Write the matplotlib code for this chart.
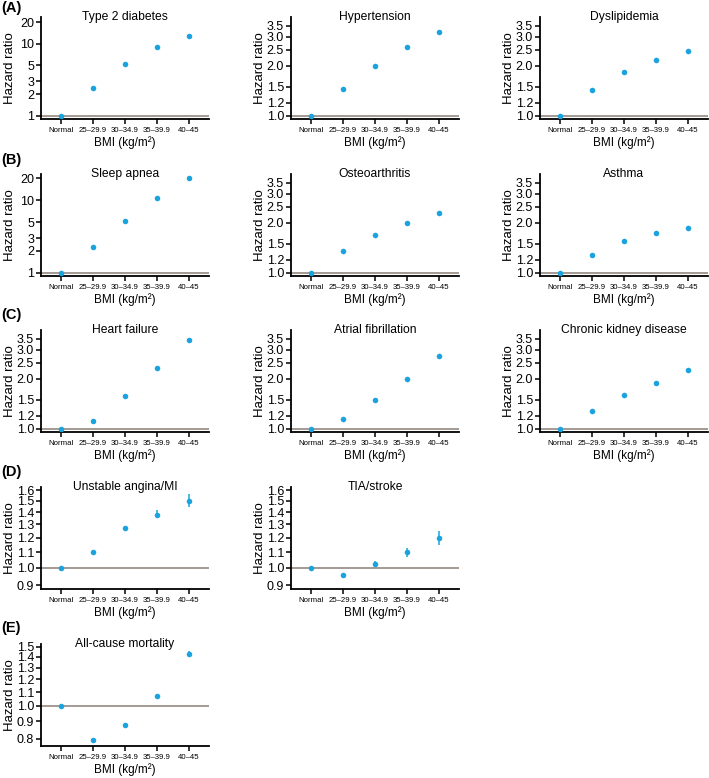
import numpy as np
import matplotlib
matplotlib.use('Agg')
import matplotlib.pyplot as plt
from matplotlib.ticker import FixedLocator, FormatStrFormatter, NullLocator

plt.rcParams['font.family'] = ['Liberation Sans', 'DejaVu Sans']

# BMI categories
bmi_labels = ['Normal', '25\u201329.9', '30\u201334.9', '35\u201339.9', '40\u201345']

# hazard ratios (point estimates)
hr_t2d = [1.0, 2.44, 5.2, 9.0, 12.6]
hr_htn = [1.0, 1.45, 2.0, 2.61, 3.2]
hr_dys = [1.0, 1.43, 1.83, 2.16, 2.45]
hr_osa = [1.0, 2.28, 5.2, 10.7, 20.1]
hr_oa = [1.0, 1.36, 1.69, 2.0, 2.31]
hr_asthma = [1.0, 1.28, 1.545, 1.73, 1.85]
hr_hf = [1.0, 1.12, 1.57, 2.32, 3.42]
hr_af = [1.0, 1.15, 1.50, 2.0, 2.76]
hr_ckd = [1.0, 1.28, 1.59, 1.88, 2.27]
hr_ua = [1.0, 1.10, 1.27, 1.38, 1.50]
hr_tia = [1.0, 0.96, 1.022, 1.10, 1.197]
hr_mort = [1.0, 0.79, 0.879, 1.074, 1.432]

# 95% CI (lower, upper); only the wider ones are visible
ci_asthma = ([1.0, 1.27, 1.53, 1.71, 1.80], [1.0, 1.29, 1.56, 1.75, 1.90])
ci_hf = ([1.0, 1.11, 1.55, 2.29, 3.34], [1.0, 1.13, 1.59, 2.35, 3.50])
ci_af = ([1.0, 1.14, 1.48, 1.97, 2.70], [1.0, 1.16, 1.52, 2.03, 2.82])
ci_ua = ([1.0, 1.09, 1.25, 1.35, 1.445], [1.0, 1.11, 1.29, 1.42, 1.565])
ci_tia = ([1.0, 0.95, 1.005, 1.07, 1.15], [1.0, 0.97, 1.04, 1.13, 1.246])
ci_mort = ([1.0, 0.785, 0.872, 1.06, 1.405], [1.0, 0.795, 0.886, 1.088, 1.46])

ticks_big = [1, 2, 3, 5, 10, 20]
ticks_mid = [1.0, 1.2, 1.5, 2.0, 2.5, 3.0, 3.5]
ticks_d = [0.9, 1.0, 1.1, 1.2, 1.3, 1.4, 1.5, 1.6]
ticks_e = [0.8, 0.9, 1.0, 1.1, 1.2, 1.3, 1.4, 1.5]

panels = [
    # (row, col, title, hr, ci, ticks, ylim, fmt)
    (0, 0, 'Type 2 diabetes', hr_t2d, None, ticks_big, (0.9, 23.5), '%d'),
    (0, 1, 'Hypertension', hr_htn, None, ticks_mid, (0.955, 3.95), '%.1f'),
    (0, 2, 'Dyslipidemia', hr_dys, None, ticks_mid, (0.955, 3.95), '%.1f'),
    (1, 0, 'Sleep apnea', hr_osa, None, ticks_big, (0.9, 23.0), '%d'),
    (1, 1, 'Osteoarthritis', hr_oa, None, ticks_mid, (0.955, 3.95), '%.1f'),
    (1, 2, 'Asthma', hr_asthma, ci_asthma, ticks_mid, (0.955, 3.95), '%.1f'),
    (2, 0, 'Heart failure', hr_hf, ci_hf, ticks_mid, (0.955, 3.95), '%.1f'),
    (2, 1, 'Atrial fibrillation', hr_af, ci_af, ticks_mid, (0.955, 3.95), '%.1f'),
    (2, 2, 'Chronic kidney disease', hr_ckd, None, ticks_mid, (0.955, 3.95), '%.1f'),
    (3, 0, 'Unstable angina/MI', hr_ua, ci_ua, ticks_d, (0.88, 1.63), '%.1f'),
    (3, 1, 'TIA/stroke', hr_tia, ci_tia, ticks_d, (0.88, 1.63), '%.1f'),
    (4, 0, 'All-cause mortality', hr_mort, ci_mort, ticks_e, (0.76, 1.53), '%.1f'),
]

W, H = 709, 778
col_left = [41, 291, 540]
row_top = [17, 174, 330, 487, 644]
ax_w, ax_h = 168, 102
point_color = '#1ba3de'
ref_color = '#a39a93'

fig = plt.figure(figsize=(W / 100, H / 100), dpi=100)

for row, col, title, hr, ci, ticks, ylim, fmt in panels:
    ax = fig.add_axes([col_left[col] / W, 1 - (row_top[row] + ax_h) / H, ax_w / W, ax_h / H])
    x = np.arange(len(bmi_labels))
    ax.axhline(1.0, color=ref_color, lw=1.4, zorder=1)
    if ci is not None:
        lo = np.array(hr) - np.array(ci[0])
        hi = np.array(ci[1]) - np.array(hr)
        ax.errorbar(x, hr, yerr=[lo, hi], fmt='none', ecolor=point_color, elinewidth=1.1, capsize=0, zorder=2)
    ax.plot(x, hr, 'o', color=point_color, ms=4, mec='none', zorder=3)
    ax.set_yscale('log')
    ax.set_ylim(*ylim)
    ax.set_xlim(-0.62, 4.62)
    ax.yaxis.set_major_locator(FixedLocator(ticks))
    ax.yaxis.set_major_formatter(FormatStrFormatter(fmt))
    ax.yaxis.set_minor_locator(NullLocator())
    ax.set_xticks(x)
    ax.set_xticklabels(bmi_labels, fontsize=5.6, family=['Liberation Sans Narrow', 'Liberation Sans'])
    for s in ['top', 'right']:
        ax.spines[s].set_visible(False)
    for s in ['left', 'bottom']:
        ax.spines[s].set_linewidth(1.3)
    ax.tick_params(axis='y', labelsize=9, length=3.5, width=1.1, pad=1.5)
    ax.tick_params(axis='x', length=3.5, width=1.1, pad=2)
    ax.set_ylabel('Hazard ratio', fontsize=9.5)
    ax.yaxis.set_label_coords(-31 / ax_w, 0.5)
    ax.set_xlabel('BMI (kg/m\u00b2)', fontsize=8.5)
    ax.xaxis.set_label_coords(0.5, -24 / ax_h)
    ax.xaxis.label.set_va('center')
    ax.yaxis.label.set_va('center')
    ax.text(0.5, 1.0, title, transform=ax.transAxes, ha='center', va='center', fontsize=8.7)

for label, y in zip(['(A)', '(B)', '(C)', '(D)', '(E)'], [8, 160, 315, 472, 628]):
    fig.text(1 / W, 1 - y / H, label, fontsize=10.5, fontweight='bold', va='center', ha='left')

fig.savefig('out.png', dpi=100)
